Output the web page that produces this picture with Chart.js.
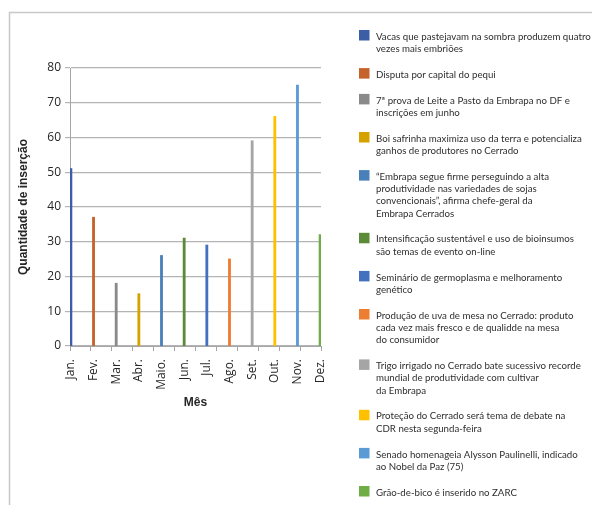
<!DOCTYPE html>
<html>
<head>
<meta charset="utf-8">
<script src="https://cdn.jsdelivr.net/npm/chart.js@4/dist/chart.umd.min.js"></script>
<style>
  body { margin: 0; background: #fff; }
  #wrap { width: 592px; height: 505px; }
</style>
</head>
<body>
<div id="wrap"><canvas id="newsChart" width="592" height="505"></canvas></div>
<script>
// Months (categories)
const months = ['Jan.', 'Fev.', 'Mar.', 'Abr.', 'Maio.', 'Jun.', 'Jul.', 'Ago.', 'Set.', 'Out.', 'Nov.', 'Dez.'];

// Number of insertions, one news item per month
const insertions = [51, 37, 18, 15, 26, 31, 29, 25, 59, 66, 75, 32];

// News titles (legend), line breaks as in the picture
const newsTitles = [
    'Vacas que pastejavam na sombra produzem quatro\nvezes mais embriões',
    'Disputa por capital do pequi',
    '7ª prova de Leite a Pasto da Embrapa no DF e\ninscrições em junho',
    'Boi safrinha maximiza uso da terra e potencializa\nganhos de produtores no Cerrado',
    '“Embrapa segue firme perseguindo a alta\nprodutividade nas variedades de sojas\nconvencionais”, afirma chefe-geral da\nEmbrapa Cerrados',
    'Intensificação sustentável e uso de bioinsumos\nsão temas de evento on-line',
    'Seminário de germoplasma e melhoramento\ngenético',
    'Produção de uva de mesa no Cerrado: produto\ncada vez mais fresco e de qualidde na mesa\ndo consumidor',
    'Trigo irrigado no Cerrado bate sucessivo recorde\nmundial de produtividade com cultivar\nda Embrapa',
    'Proteção do Cerrado será tema de debate na\nCDR nesta segunda-feira',
    'Senado homenageia Alysson Paulinelli, indicado\nao Nobel da Paz (75)',
    'Grão-de-bico é inserido no ZARC'
];

const colors = ['#3b5ea6', '#c6622b', '#8a8a8a', '#d6a200', '#4a80b9', '#5b8b38',
                '#4470c0', '#ed7d31', '#a5a5a5', '#ffc000', '#5b9bd5', '#70ad47'];

const yTicks = [0, 10, 20, 30, 40, 50, 60, 70, 80];

// each news item is its own series, with a value only in its month
const datasets = newsTitles.map((title, i) => ({
    label: title,
    data: months.map((m, j) => (j === i ? insertions[i] : null)),
    backgroundColor: colors[i],
    borderWidth: 0,
    inflateAmount: 0.55,
    barPercentage: 1,
    categoryPercentage: 1
}));

// Legend on the right and the frame line
const sideLegend = {
    id: 'sideLegend',
    beforeDraw(chart) {
        const ctx = chart.ctx;
        ctx.save();
        ctx.strokeStyle = '#c8c8c8';
        ctx.lineWidth = 1.5;
        ctx.strokeRect(9.5, 12.5, 700, 600);
        ctx.restore();
    },
    afterDraw(chart) {
        const ctx = chart.ctx;
        ctx.save();
        ctx.font = '9.7px Lato';
        ctx.textBaseline = 'middle';
        let y = 30;
        chart.data.datasets.forEach(ds => {
            const lines = ds.label.split('\n');
            ctx.fillStyle = ds.backgroundColor;
            ctx.fillRect(359, y, 10.5, 10.5);
            ctx.fillStyle = '#2e2e2e';
            lines.forEach((ln, k) => ctx.fillText(ln, 376, y + 6.5 + k * 12.3));
            y += lines.length * 12.3 + 13.5;
        });
        ctx.restore();
    }
};

const n = months.length;
const axisFont = { family: 'Open Sans', size: 12 };

const ctx = document.getElementById('newsChart').getContext('2d');
const newsChart = new Chart(ctx, {
    type: 'bar',
    data: { labels: months, datasets: datasets },
    plugins: [sideLegend],
    options: {
        responsive: false,
        animation: false,
        layout: { padding: { left: 0, top: 68, right: 271, bottom: 90 } },
        plugins: { legend: { display: false }, tooltip: { enabled: false } },
        scales: {
            x: {
                weight: 0,
                grid: { drawOnChartArea: false, drawTicks: true, tickLength: 5, color: '#a6a6a6', offset: true },
                border: { color: '#a6a6a6' },
                ticks: { display: false },
                afterFit: s => { s.height = 0; }
            },
            xl: {
                type: 'linear',
                position: 'bottom',
                weight: 1,
                offset: false,
                min: 0,
                max: n,
                grid: { display: false, offset: false },
                border: { display: false },
                afterBuildTicks: s => {
                    // labels under each month's bar
                    s.ticks = months.map((m, i) => ({ value: (i * (n + 1) + 0.5) / n }));
                },
                ticks: {
                    autoSkip: false,
                    minRotation: 90,
                    maxRotation: 90,
                    padding: 5,
                    color: '#262626',
                    font: axisFont,
                    callback: (v, i) => months[i]
                },
                title: {
                    display: true,
                    text: 'Mês',
                    color: '#262626',
                    font: { family: 'Liberation Sans', size: 12, weight: 'bold' },
                    padding: { top: 0, bottom: 5 }
                },
                afterFit: s => { s.height = 69; }
            },
            y: {
                min: 0,
                max: 80,
                afterBuildTicks: s => { s.ticks = yTicks.map(v => ({ value: v })); },
                grid: { color: '#b4b4b4', lineWidth: 1.2, tickLength: 5 },
                border: { color: '#a6a6a6' },
                ticks: { padding: 4, color: '#262626', font: axisFont },
                title: {
                    display: true,
                    text: 'Quantidade de inserção',
                    color: '#262626',
                    font: { family: 'Liberation Sans', size: 12, weight: 'bold' },
                    padding: { top: 16, bottom: 0 }
                },
                afterFit: s => { s.width = 70; }
            }
        }
    }
});
</script>
</body>
</html>
